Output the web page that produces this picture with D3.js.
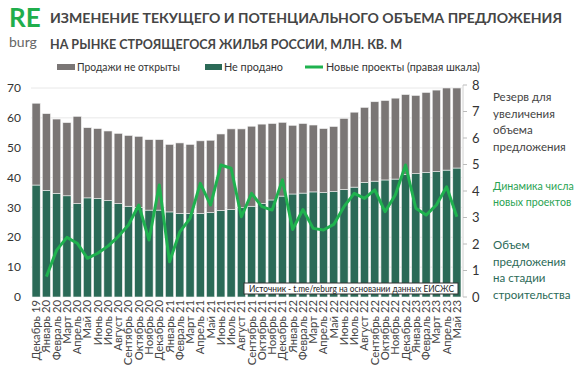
<!DOCTYPE html>
<html><head><meta charset="utf-8">
<script src="https://cdn.jsdelivr.net/npm/d3@7/dist/d3.min.js"></script>
<style>
html,body{margin:0;padding:0;background:#fff;}
svg{display:block;font-family:Lato,"Open Sans",sans-serif;}
</style></head>
<body>
<svg id="chart" width="576" height="366"></svg>
<script>
const categories = ["Декабрь 19","Январь 20","Февраль 20","Март 20","Апрель 20","Май 20","Июнь 20","Июль 20","Август 20","Сентябрь 20","Октябрь 20","Ноябрь 20","Декабрь 20","Январь 21","Февраль 21","Март 21","Апрель 21","Май 21","Июнь 21","Июль 21","Август 21","Сентябрь 21","Октябрь 21","Ноябрь 21","Декабрь 21","Январь 22","Февраль 22","Март 22","Апрель 22","Май 22","Июнь 22","Июль 22","Август 22","Сентябрь 22","Октябрь 22","Ноябрь 22","Декабрь 22","Январь 23","Февраль 23","Март 23","Апрель 23","Май 23"];
const unsold = [37.5,35.7,34.7,33.9,31.3,33.2,33.0,32.3,31.3,30.4,30.0,29.1,29.1,28.5,28.0,28.0,28.0,28.3,29.0,29.3,29.9,30.4,31.3,32.5,33.8,34.5,34.8,35.2,35.0,35.3,36.0,36.8,38.4,38.8,39.2,39.5,41.1,41.3,41.7,42.0,42.5,43.2];
const notOpened = [27.4,25.7,24.9,24.5,29.2,23.5,23.4,23.3,23.5,23.7,23.8,23.6,23.6,22.6,23.6,23.1,24.3,24.2,25.6,27.0,26.4,26.8,26.6,25.6,24.7,23.0,23.3,22.4,21.4,21.8,23.8,25.1,25.1,26.6,26.6,27.1,26.7,26.2,26.8,27.3,27.5,26.8];
const newProjects = [null,0.77,1.77,2.25,2.03,1.46,1.65,1.92,2.28,2.72,3.47,2.15,4.23,1.33,2.46,2.97,4.29,3.47,4.98,4.86,3.03,3.91,3.41,3.28,4.42,2.55,3.3,2.59,2.53,2.74,3.41,3.91,3.72,4.04,3.22,3.85,4.98,3.35,3.09,3.47,4.16,3.03];
const leftTicks = [0,10,20,30,40,50,60,70];
const rightTicks = [0,1,2,3,4,5,6,7,8];
const seriesNames = ["Продажи не открыты","Не продано","Новые проекты (правая шкала)"];
const titleLines = ["ИЗМЕНЕНИЕ ТЕКУЩЕГО И ПОТЕНЦИАЛЬНОГО ОБЪЕМА ПРЕДЛОЖЕНИЯ","НА РЫНКЕ СТРОЯЩЕГОСЯ ЖИЛЬЯ РОССИИ, МЛН. КВ. М"];
const noteReserve = ["Резерв для","увеличения","объема","предложения"];
const noteDynamics = ["Динамика числа","новых проектов"];
const noteVolume = ["Объем","предложения","на стадии","строительства"];
const sourceText = "Источник - t.me/reburg на основании данных ЕИСЖС";

const GREY = "#7a7675", DARK = "#2b6a57", LINE = "#1fb24f";
const svg = d3.select("#chart");

const x = d3.scaleBand().domain(categories).range([31,462]).paddingInner(0.2).paddingOuter(0.1);
const yL = d3.scaleLinear().domain([0,70]).range([297,88]);
const yR = d3.scaleLinear().domain([0,8]).range([297,85]);

// gridlines
svg.append("g").selectAll("line").data(leftTicks.slice(1)).join("line")
  .attr("x1",31).attr("x2",462).attr("y1",d=>yL(d)).attr("y2",d=>yL(d))
  .attr("stroke","#e8e8e8").attr("stroke-width",1);

// stacked bars
const rows = categories.map((c,i)=>({cat:c,unsold:unsold[i],notOpened:notOpened[i]}));
const stack = d3.stack().keys(["unsold","notOpened"])(rows);
const colors = {unsold:DARK,notOpened:GREY};
svg.append("g").selectAll("g").data(stack).join("g").attr("fill",d=>colors[d.key])
  .selectAll("rect").data(d=>d).join("rect")
  .attr("x",d=>x(d.data.cat)).attr("width",x.bandwidth())
  .attr("y",d=>yL(d[1])).attr("height",d=>yL(d[0])-yL(d[1]))
  .attr("stroke","#f2f2f2").attr("stroke-width",0.6);

// line
const line = d3.line().defined(d=>d!=null)
  .x((d,i)=>x(categories[i])+x.bandwidth()/2).y(d=>yR(d));
svg.append("path").datum(newProjects).attr("d",line)
  .attr("fill","none").attr("stroke",LINE).attr("stroke-width",3).attr("stroke-linejoin","round");

// left axis labels
svg.append("g").selectAll("text").data(leftTicks).join("text")
  .attr("x",21).attr("y",d=>yL(d)).attr("dy","0.35em").attr("text-anchor","end")
  .attr("font-size",12).attr("fill","#333").text(d=>d);

// right axis
const ra = svg.append("g");
ra.append("line").attr("x1",463).attr("x2",463).attr("y1",yR(8)).attr("y2",yR(0)).attr("stroke","#d0d0d0");
ra.selectAll("line.t").data(rightTicks).join("line").attr("class","t")
  .attr("x1",463).attr("x2",467).attr("y1",d=>yR(d)).attr("y2",d=>yR(d)).attr("stroke","#bbb");
ra.selectAll("text").data(rightTicks).join("text")
  .attr("x",472).attr("y",d=>yR(d)).attr("dy","0.35em")
  .attr("font-size",13).attr("fill","#333").text(d=>d);

// x labels
svg.append("g").selectAll("text").data(categories).join("text")
  .attr("transform",d=>`translate(${x(d)+x.bandwidth()/2},300) rotate(-90)`)
  .attr("text-anchor","end").attr("dy","0.35em")
  .attr("font-size",11.3).attr("fill","#444").text(d=>d);

// source box
svg.append("rect").attr("x",244).attr("y",283).attr("width",214).attr("height",11)
  .attr("fill","#fff").attr("stroke","#333").attr("stroke-width",1);
svg.append("text").attr("x",249).attr("y",291.5).attr("font-size",8.5).attr("fill","#222")
  .attr("textLength",205).attr("lengthAdjust","spacingAndGlyphs").text(sourceText);

// legend
const lg = svg.append("g").attr("font-size",11.5).attr("fill","#333");
lg.append("rect").attr("x",57).attr("y",64).attr("width",18).attr("height",6).attr("fill",GREY);
lg.append("text").attr("x",77).attr("y",67).attr("dy","0.35em").attr("textLength",103).attr("lengthAdjust","spacingAndGlyphs").text(seriesNames[0]);
lg.append("rect").attr("x",205).attr("y",64).attr("width",17).attr("height",6).attr("fill",DARK);
lg.append("text").attr("x",224).attr("y",67).attr("dy","0.35em").attr("textLength",59).attr("lengthAdjust","spacingAndGlyphs").text(seriesNames[1]);
lg.append("line").attr("x1",305).attr("x2",323).attr("y1",67).attr("y2",67).attr("stroke",LINE).attr("stroke-width",3);
lg.append("text").attr("x",326).attr("y",67).attr("dy","0.35em").attr("textLength",154).attr("lengthAdjust","spacingAndGlyphs").text(seriesNames[2]);

// logo + title
svg.append("text").attr("x",9).attr("y",27).attr("font-size",26).attr("font-weight",700).attr("fill","#1fae4c").text("RE");
svg.append("text").attr("x",9).attr("y",47).attr("font-size",14).attr("fill","#666").text("burg");
svg.selectAll("text.title").data(titleLines).join("text").attr("class","title")
  .attr("x",50).attr("y",(d,i)=>23+i*26).attr("font-size",13.6).attr("font-weight",700)
  .attr("fill","#454545")
  .attr("textLength",(d,i)=>i===0?512:352).attr("lengthAdjust","spacingAndGlyphs").text(d=>d);

// right notes
function note(lines,y0,color,size){
  svg.append("g").selectAll("text").data(lines).join("text")
    .attr("x",493).attr("y",(d,i)=>y0+i*16.5).attr("dy","0.35em")
    .attr("font-size",size).attr("fill",color).text(d=>d);
}
note(noteReserve,97,"#444",11.5);
note(noteDynamics,186,"#2aa352",10.6);
note(noteVolume,245,"#2b6a57",11.5);
</script>
</body></html>
